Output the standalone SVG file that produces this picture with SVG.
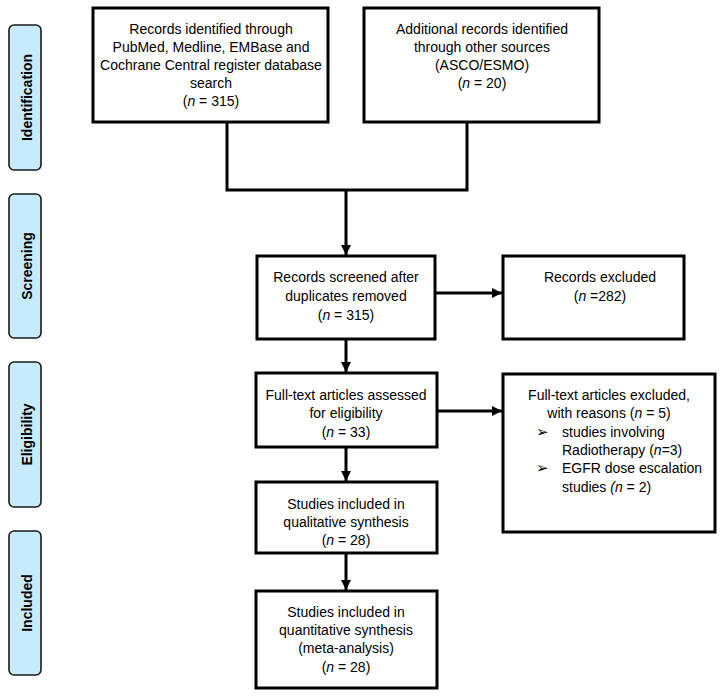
<svg xmlns="http://www.w3.org/2000/svg" width="725" height="698" viewBox="0 0 725 698">
<style>
.box{fill:#fff;stroke:#000;stroke-width:3}
.lab{fill:#c6ebfc;stroke:#1a1a1a;stroke-width:1.6}
.t{font-family:"Liberation Sans",Arial,sans-serif;font-size:14px;fill:#000;text-anchor:middle}
.tl{font-family:"Liberation Sans",Arial,sans-serif;font-size:14px;fill:#000}
.b{font-family:"DejaVu Sans",sans-serif;font-size:15px;fill:#000}
.lt{font-family:"Liberation Sans",Arial,sans-serif;font-size:14px;font-weight:bold;fill:#000;text-anchor:middle}
.c{fill:none;stroke:#000;stroke-width:3}
</style>
<defs>
<marker id="ah" viewBox="0 0 10 10" refX="10" refY="5" markerWidth="3.4" markerHeight="3.4" orient="auto" markerUnits="strokeWidth">
<path d="M0,0 L10,5 L0,10 z" fill="#000"/>
</marker>
</defs>
<rect width="725" height="698" fill="#fff"/>
<g id="labels">
<g id="lab-identification"><rect class="lab" x="9" y="25" width="32" height="145" rx="5"/><text class="lt" transform="translate(31.5,97.5) rotate(-90)">Identification</text></g>
<g id="lab-screening"><rect class="lab" x="9" y="194" width="32" height="144" rx="5"/><text class="lt" transform="translate(31.5,266) rotate(-90)">Screening</text></g>
<g id="lab-eligibility"><rect class="lab" x="9" y="362" width="32" height="145" rx="5"/><text class="lt" transform="translate(31.5,434.5) rotate(-90)">Eligibility</text></g>
<g id="lab-included"><rect class="lab" x="9" y="531" width="32" height="144" rx="5"/><text class="lt" transform="translate(31.5,603) rotate(-90)">Included</text></g>
</g>
<g id="connectors">
<path class="c" d="M227,122 V190 H467 V122"/>
<path class="c" d="M346,190 V255" marker-end="url(#ah)"/>
<path class="c" d="M435,293 H502" marker-end="url(#ah)"/>
<path class="c" d="M346,339 V372" marker-end="url(#ah)"/>
<path class="c" d="M437,411 H502" marker-end="url(#ah)"/>
<path class="c" d="M346,447 V481" marker-end="url(#ah)"/>
<path class="c" d="M346,553 V590" marker-end="url(#ah)"/>
</g>
<g id="n-pubmed"><rect class="box" x="93" y="8" width="235" height="114"/>
<text class="t" x="211" y="34">Records identified through</text>
<text class="t" x="211" y="52">PubMed, Medline, EMBase and</text>
<text class="t" x="211" y="70">Cochrane Central register database</text>
<text class="t" x="211" y="88">search</text>
<text class="t" x="211" y="106">(<tspan font-style="italic">n</tspan> = 315)</text>
</g>
<g id="n-other"><rect class="box" x="364" y="8" width="235" height="114"/>
<text class="t" x="482" y="34">Additional records identified</text>
<text class="t" x="482" y="52">through other sources</text>
<text class="t" x="482" y="70">(ASCO/ESMO)</text>
<text class="t" x="482" y="88">(<tspan font-style="italic">n</tspan> = 20)</text>
</g>
<g id="n-screened"><rect class="box" x="257" y="256" width="178" height="83"/>
<text class="t" x="346" y="282">Records screened after</text>
<text class="t" x="346" y="301">duplicates removed</text>
<text class="t" x="346" y="320">(<tspan font-style="italic">n</tspan> = 315)</text>
</g>
<g id="n-excluded"><rect class="box" x="503" y="256" width="181" height="83"/>
<text class="t" x="600" y="282">Records excluded</text>
<text class="t" x="600" y="301">(<tspan font-style="italic">n</tspan> =282)</text>
</g>
<g id="n-fulltext"><rect class="box" x="256" y="373" width="181" height="74"/>
<text class="t" x="346" y="400">Full-text articles assessed</text>
<text class="t" x="346" y="418">for eligibility</text>
<text class="t" x="346" y="437">(<tspan font-style="italic">n</tspan> = 33)</text>
</g>
<g id="n-ftexcluded"><rect class="box" x="503" y="374" width="212" height="158"/>
<text class="t" x="609" y="400">Full-text articles excluded,</text>
<text class="t" x="609" y="418">with reasons (<tspan font-style="italic">n</tspan> = 5)</text>
<text class="b" x="536" y="437">➢</text>
<text class="tl" x="562" y="437">studies involving</text>
<text class="tl" x="562" y="455">Radiotherapy (<tspan font-style="italic">n</tspan>=3)</text>
<text class="b" x="536" y="473">➢</text>
<text class="tl" x="562" y="473">EGFR dose escalation</text>
<text class="tl" x="562" y="492">studies <tspan font-style="italic">(n</tspan> = 2)</text>
</g>
<g id="n-qualitative"><rect class="box" x="256" y="482" width="181" height="71"/>
<text class="t" x="346" y="509">Studies included in</text>
<text class="t" x="346" y="527">qualitative synthesis</text>
<text class="t" x="346" y="545">(<tspan font-style="italic">n</tspan> = 28)</text>
</g>
<g id="n-quantitative"><rect class="box" x="256" y="591" width="181" height="97"/>
<text class="t" x="346" y="617">Studies included in</text>
<text class="t" x="346" y="635">quantitative synthesis</text>
<text class="t" x="346" y="653">(meta-analysis)</text>
<text class="t" x="346" y="672">(<tspan font-style="italic">n</tspan> = 28)</text>
</g>
</svg>
